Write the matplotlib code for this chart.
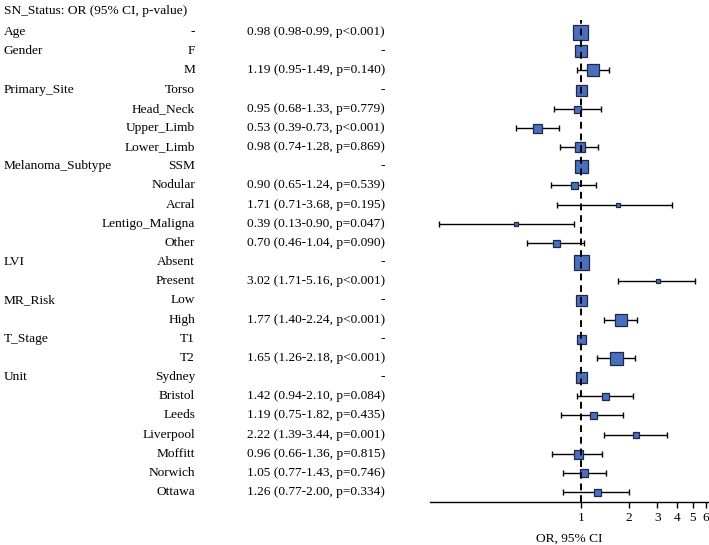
import matplotlib
matplotlib.use("Agg")
import matplotlib.pyplot as plt
import matplotlib.transforms as mtransforms
import numpy as np

plt.rcParams['font.family'] = ['Liberation Serif', 'DejaVu Serif']

variables = ['Age', 'Gender', '', 'Primary_Site', '', '', '', 'Melanoma_Subtype', '', '', '', '',
             'LVI', '', 'MR_Risk', '', 'T_Stage', '', 'Unit', '', '', '', '', '', '']
levels = ['-', 'F', 'M', 'Torso', 'Head_Neck', 'Upper_Limb', 'Lower_Limb', 'SSM', 'Nodular', 'Acral',
          'Lentigo_Maligna', 'Other', 'Absent', 'Present', 'Low', 'High', 'T1', 'T2', 'Sydney',
          'Bristol', 'Leeds', 'Liverpool', 'Moffitt', 'Norwich', 'Ottawa']
or_text = ['0.98 (0.98-0.99, p<0.001)', '-', '1.19 (0.95-1.49, p=0.140)', '-',
           '0.95 (0.68-1.33, p=0.779)', '0.53 (0.39-0.73, p<0.001)', '0.98 (0.74-1.28, p=0.869)', '-',
           '0.90 (0.65-1.24, p=0.539)', '1.71 (0.71-3.68, p=0.195)', '0.39 (0.13-0.90, p=0.047)',
           '0.70 (0.46-1.04, p=0.090)', '-', '3.02 (1.71-5.16, p<0.001)', '-',
           '1.77 (1.40-2.24, p<0.001)', '-', '1.65 (1.26-2.18, p<0.001)', '-',
           '1.42 (0.94-2.10, p=0.084)', '1.19 (0.75-1.82, p=0.435)', '2.22 (1.39-3.44, p=0.001)',
           '0.96 (0.66-1.36, p=0.815)', '1.05 (0.77-1.43, p=0.746)', '1.26 (0.77-2.00, p=0.334)']
OR = [0.98, 1, 1.19, 1, 0.95, 0.53, 0.98, 1, 0.90, 1.71, 0.39, 0.70, 1, 3.02, 1, 1.77, 1, 1.65,
      1, 1.42, 1.19, 2.22, 0.96, 1.05, 1.26]
lower = [0.98, np.nan, 0.95, np.nan, 0.68, 0.39, 0.74, np.nan, 0.65, 0.71, 0.13, 0.46, np.nan, 1.71,
         np.nan, 1.40, np.nan, 1.26, np.nan, 0.94, 0.75, 1.39, 0.66, 0.77, 0.77]
upper = [0.99, np.nan, 1.49, np.nan, 1.33, 0.73, 1.28, np.nan, 1.24, 3.68, 0.90, 1.04, np.nan, 5.16,
         np.nan, 2.24, np.nan, 2.18, np.nan, 2.10, 1.82, 3.44, 1.36, 1.43, 2.00]
# relative box size (group size)
box = [15, 12, 12, 11, 7, 9, 10, 13, 7, 4, 5, 7, 15, 5, 11, 12, 9, 13, 11, 7, 7, 6, 9, 8, 7]

fig = plt.figure(figsize=(7.09, 5.45), dpi=100)
W, H = 709, 545
FS = 9.6
ax = fig.add_axes([430 / W, 1 - 502 / H, 279 / W, (502 - 20) / H])

n = len(levels)
ypos = np.arange(n)
OR = np.array(OR)
lower = np.array(lower)
upper = np.array(upper)

has_ci = ~np.isnan(lower)
ax.errorbar(OR[has_ci], ypos[has_ci],
            xerr=[OR[has_ci] - lower[has_ci], upper[has_ci] - OR[has_ci]],
            fmt='none', ecolor='black', elinewidth=1, capsize=2.5, capthick=1, zorder=2)
for x, y, s in zip(OR, ypos, box):
    ax.plot(x, y, marker='s', ms=s * 0.72, mfc='#4a6fc0', mec='#202840', mew=0.9,
            linestyle='none', zorder=3)
ax.axvline(1, color='black', lw=1.4, ls=(0, (3.5, 2.5)), zorder=4)

ax.set_xscale('log')
ax.set_xlim(0.114, 6.3)
ax.set_ylim(24.52, -0.63)
ax.set_xticks([1, 2, 3, 4, 5, 6])
ax.set_xticklabels(['1', '2', '3', '4', '5', '6'])
ax.xaxis.set_minor_locator(matplotlib.ticker.NullLocator())
ax.set_yticks([])
for sp in ['top', 'left', 'right']:
    ax.spines[sp].set_visible(False)
ax.spines['bottom'].set_linewidth(1)
ax.tick_params(axis='x', length=4, width=1, labelsize=FS, pad=3.5)
ax.set_xlabel('OR, 95% CI', fontsize=FS, labelpad=6)

trans = mtransforms.blended_transform_factory(fig.transFigure, ax.transData)
for i in range(n):
    ax.text(4 / W, i, variables[i], transform=trans, ha='left', va='center', fontsize=FS)
    ax.text(195 / W, i, levels[i], transform=trans, ha='right', va='center', fontsize=FS)
    ax.text(385 / W, i, or_text[i], transform=trans, ha='right', va='center', fontsize=FS)

fig.text(4 / W, 1 - 11 / H, 'SN_Status: OR (95% CI, p-value)', ha='left', va='center', fontsize=FS)

fig.savefig('out.png', dpi=100)
